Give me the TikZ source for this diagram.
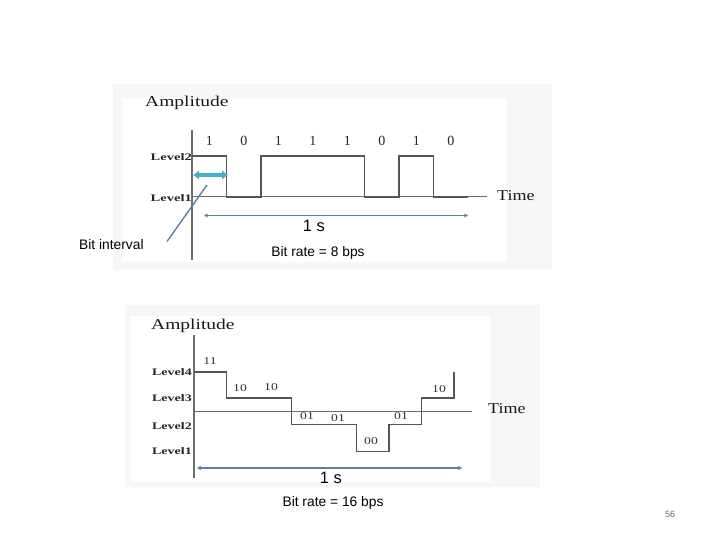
\documentclass[tikz,border=0pt]{standalone}
\usepackage{fontspec}
\setmainfont{Liberation Sans}
\newfontfamily\imgserif{Liberation Serif}
\usetikzlibrary{arrows.meta}
\definecolor{sig}{HTML}{555555}
\definecolor{axisc}{HTML}{6E6E6E}
\definecolor{bluearr}{HTML}{5A7FA8}
\definecolor{cyanarr}{HTML}{4BACC6}
\definecolor{panel}{HTML}{F7F7F7}
\tikzset{
  biglab/.style={font=\imgserif\fontsize{15}{15}\selectfont, inner sep=0pt, text=black!90},
  lvl/.style={font=\imgserif\bfseries\fontsize{10}{10}\selectfont, inner sep=0pt, anchor=east, text=black!85},
  bit/.style={font=\imgserif\fontsize{14}{14}\selectfont, inner sep=0pt, text=black!85},
  sym/.style={font=\imgserif\fontsize{10.5}{10.5}\selectfont, inner sep=0pt, text=black!80},
  sans/.style={font=\fontsize{13.8}{14}\selectfont, inner sep=0pt},
  ones/.style={font=\fontsize{16.5}{17}\selectfont, inner sep=0pt},
  signal/.style={draw=sig, line width=1.6pt, line join=miter},
  vaxis/.style={draw=axisc, line width=1.8pt},
  haxis/.style={draw=axisc, line width=1pt},
  spanarr/.style={draw=bluearr, line width=1.4pt, {Stealth[length=4pt,width=4pt]}-{Stealth[length=4pt,width=4pt]}},
  pointer/.style={draw=bluearr, line width=1.4pt},
  bitarr/.style={draw=cyanarr, line width=3.2pt, {Latex[length=6pt,width=10pt]}-{Latex[length=6pt,width=10pt]}},
  panelbox/.style={fill=panel, draw=none},
}
\begin{document}
\begin{tikzpicture}[x=1pt,y=-1pt]
\useasboundingbox (0,0) rectangle (720,540);
\fill[white] (0,0) rectangle (720,540);
% ---------- top panel ----------
\fill[panelbox] (113,84) rectangle (552,270);
\fill[white] (122,98) rectangle (507,262);
\node[biglab, anchor=west] (amp1) at (145,103) {\scalebox{1.3}[1]{Amplitude}};
\node[lvl] (l2a) at (192,157) {\scalebox{1.45}[1]{Level2}};
\node[lvl] (l1a) at (192,198) {\scalebox{1.45}[1]{Level1}};
\node[biglab, anchor=west] (time1) at (497,196) {\scalebox{1.2}[1]{Time}};
\coordinate (va1) at (192,130);
\coordinate (vb1) at (192,260);
\coordinate (ha1) at (192,197);
\coordinate (hb1) at (487,197);
\draw[vaxis] (va1) -- (vb1);
\draw[haxis] (ha1) -- (hb1);
\draw[signal] (192,156) -- (226.5,156) -- (226.5,197) -- (261,197) -- (261,156)
  -- (364.5,156) -- (364.5,197) -- (399,197) -- (399,156) -- (433.5,156)
  -- (433.5,197) -- (468,197);
\foreach \b [count=\i from 0] in {1,0,1,1,1,0,1,0}{
  \node[bit] (ta\i) at ({209.25+34.5*\i},141) {\b};
}
\coordinate (ca) at (193,175);
\coordinate (cb) at (228,175);
\draw[bitarr] (ca) -- (cb);
\coordinate (sa1) at (204,215.5);
\coordinate (sb1) at (468,215.5);
\draw[spanarr] (sa1) -- (sb1);
\node[ones] (one1) at (314,226) {1 s};
\node[sans] (br1) at (318,253) {Bit rate = 8 bps};
\node[sans, anchor=west] (bi) at (79,245) {Bit interval};
\coordinate (pa) at (167,241.5);
\coordinate (pb) at (207,185);
\draw[pointer] (pa) -- (pb);
% ---------- bottom panel ----------
\fill[panelbox] (125,305) rectangle (540,487);
\fill[white] (130,316) rectangle (490,482);
\node[biglab, anchor=west] (amp2) at (151,326) {\scalebox{1.3}[1]{Amplitude}};
\node[lvl] (l4) at (192,372) {\scalebox{1.4}[1]{Level4}};
\node[lvl] (l3) at (192,398) {\scalebox{1.4}[1]{Level3}};
\node[lvl] (l2) at (192,426) {\scalebox{1.4}[1]{Level2}};
\node[lvl] (l1) at (192,451) {\scalebox{1.4}[1]{Level1}};
\node[biglab, anchor=west] (time2) at (488,409) {\scalebox{1.2}[1]{Time}};
\coordinate (va2) at (194,335);
\coordinate (vb2) at (194,478);
\coordinate (ha2) at (194,411);
\coordinate (hb2) at (472,411);
\draw[vaxis] (va2) -- (vb2);
\draw[haxis] (ha2) -- (hb2);
\draw[signal] (194,372) -- (226.5,372) -- (226.5,398) -- (291.5,398) -- (291.5,424.5)
  -- (356.5,424.5) -- (356.5,451.5) -- (389,451.5) -- (389,424.5) -- (421.5,424.5)
  -- (421.5,398) -- (454,398) -- (454,372);
\node[sym] (s1) at (210,361) {\scalebox{1.3}[1]{11}};
\node[sym] (s2) at (240,388) {\scalebox{1.3}[1]{10}};
\node[sym] (s3) at (271,387) {\scalebox{1.3}[1]{10}};
\node[sym] (s4) at (307,416) {\scalebox{1.3}[1]{01}};
\node[sym] (s5) at (338,418) {\scalebox{1.3}[1]{01}};
\node[sym] (s6) at (371,441) {\scalebox{1.3}[1]{00}};
\node[sym] (s7) at (401,416) {\scalebox{1.3}[1]{01}};
\node[sym] (s8) at (439,389) {\scalebox{1.3}[1]{10}};
\coordinate (sa2) at (197,468);
\coordinate (sb2) at (462,468);
\draw[spanarr] (sa2) -- (sb2);
\node[ones] (one2) at (331,478) {1 s};
\node[sans] (br2) at (333,503) {Bit rate = 16 bps};
\node[font=\fontsize{9}{9}\selectfont, text=black!60, inner sep=0pt] (pg) at (670,514) {56};
\end{tikzpicture}
\end{document}
